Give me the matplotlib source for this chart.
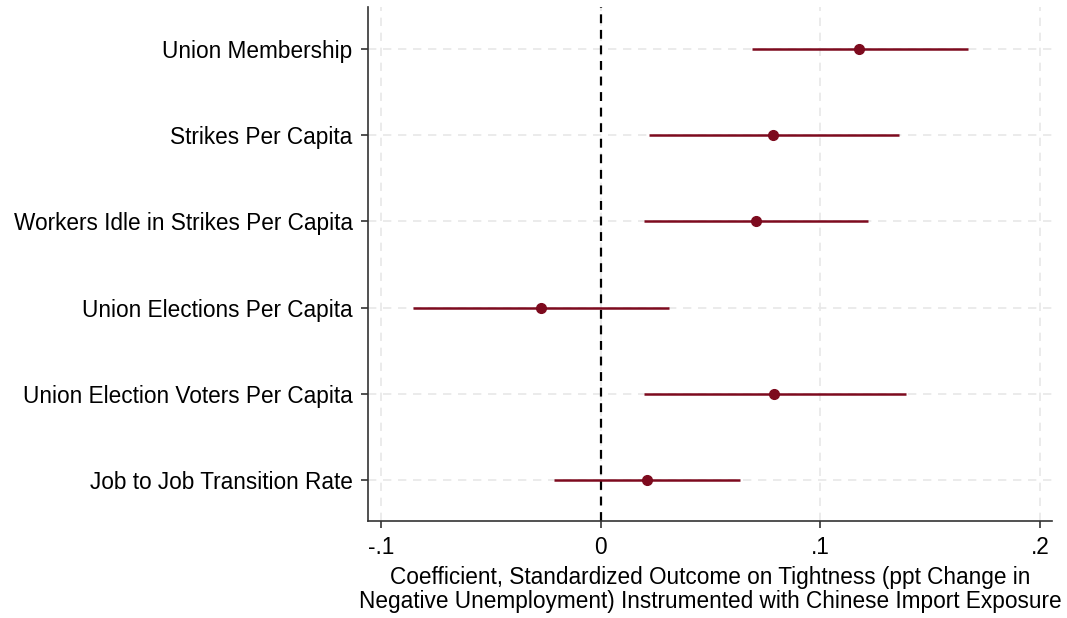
import numpy as np
import matplotlib.pyplot as plt

plt.rcParams['font.family'] = ['Liberation Sans', 'DejaVu Sans']

labels = ['Union Membership', 'Strikes Per Capita', 'Workers Idle in Strikes Per Capita',
          'Union Elections Per Capita', 'Union Election Voters Per Capita',
          'Job to Job Transition Rate']
coef = [0.1175, 0.0784, 0.0706, -0.0273, 0.0788, 0.0210]
ci_lo = [0.0688, 0.0219, 0.0196, -0.0852, 0.0196, -0.0210]
ci_hi = [0.1672, 0.1358, 0.1216, 0.0310, 0.1390, 0.0633]
xticks = [-0.1, 0, 0.1, 0.2]
xtick_labels = ['-.1', '0', '.1', '.2']

col = '#7d0a1e'
fig = plt.figure(figsize=(10.67, 6.18), dpi=100)
ax = fig.add_axes([0.3449, 0.157, 0.641, 0.8318])

y = np.arange(1, len(labels) + 1)
ax.hlines(y, ci_lo, ci_hi, color=col, lw=1.8, zorder=3)
ax.plot(coef, y, 'o', color=col, ms=7, zorder=4)
ax.axvline(0, color='black', lw=1.6, ls=(0, (4, 3)), zorder=2)

ax.set_xlim(-0.1059, 0.2055)
ax.set_ylim(6.476, 0.513)
ax.set_yticks(y)
ax.set_yticklabels(labels)
ax.set_xticks(xticks)
ax.set_xticklabels(xtick_labels)

ax.grid(True, color='#e8e8e8', lw=1.2, ls=(0, (5, 4)), zorder=0)
ax.set_axisbelow(True)

for s in ['top', 'right']:
    ax.spines[s].set_visible(False)
for s in ['left', 'bottom']:
    ax.spines[s].set_color('#333333')
    ax.spines[s].set_linewidth(1.2)

ax.tick_params(axis='both', labelsize=16.3, length=5, width=1.2, color='#333333')
ax.tick_params(axis='y', pad=6)
ax.tick_params(axis='x', pad=6)
ax.set_xlabel('Coefficient, Standardized Outcome on Tightness (ppt Change in\n'
              'Negative Unemployment) Instrumented with Chinese Import Exposure',
              fontsize=16.3, labelpad=5, linespacing=1.05)

fig.savefig('out.png', dpi=100)
